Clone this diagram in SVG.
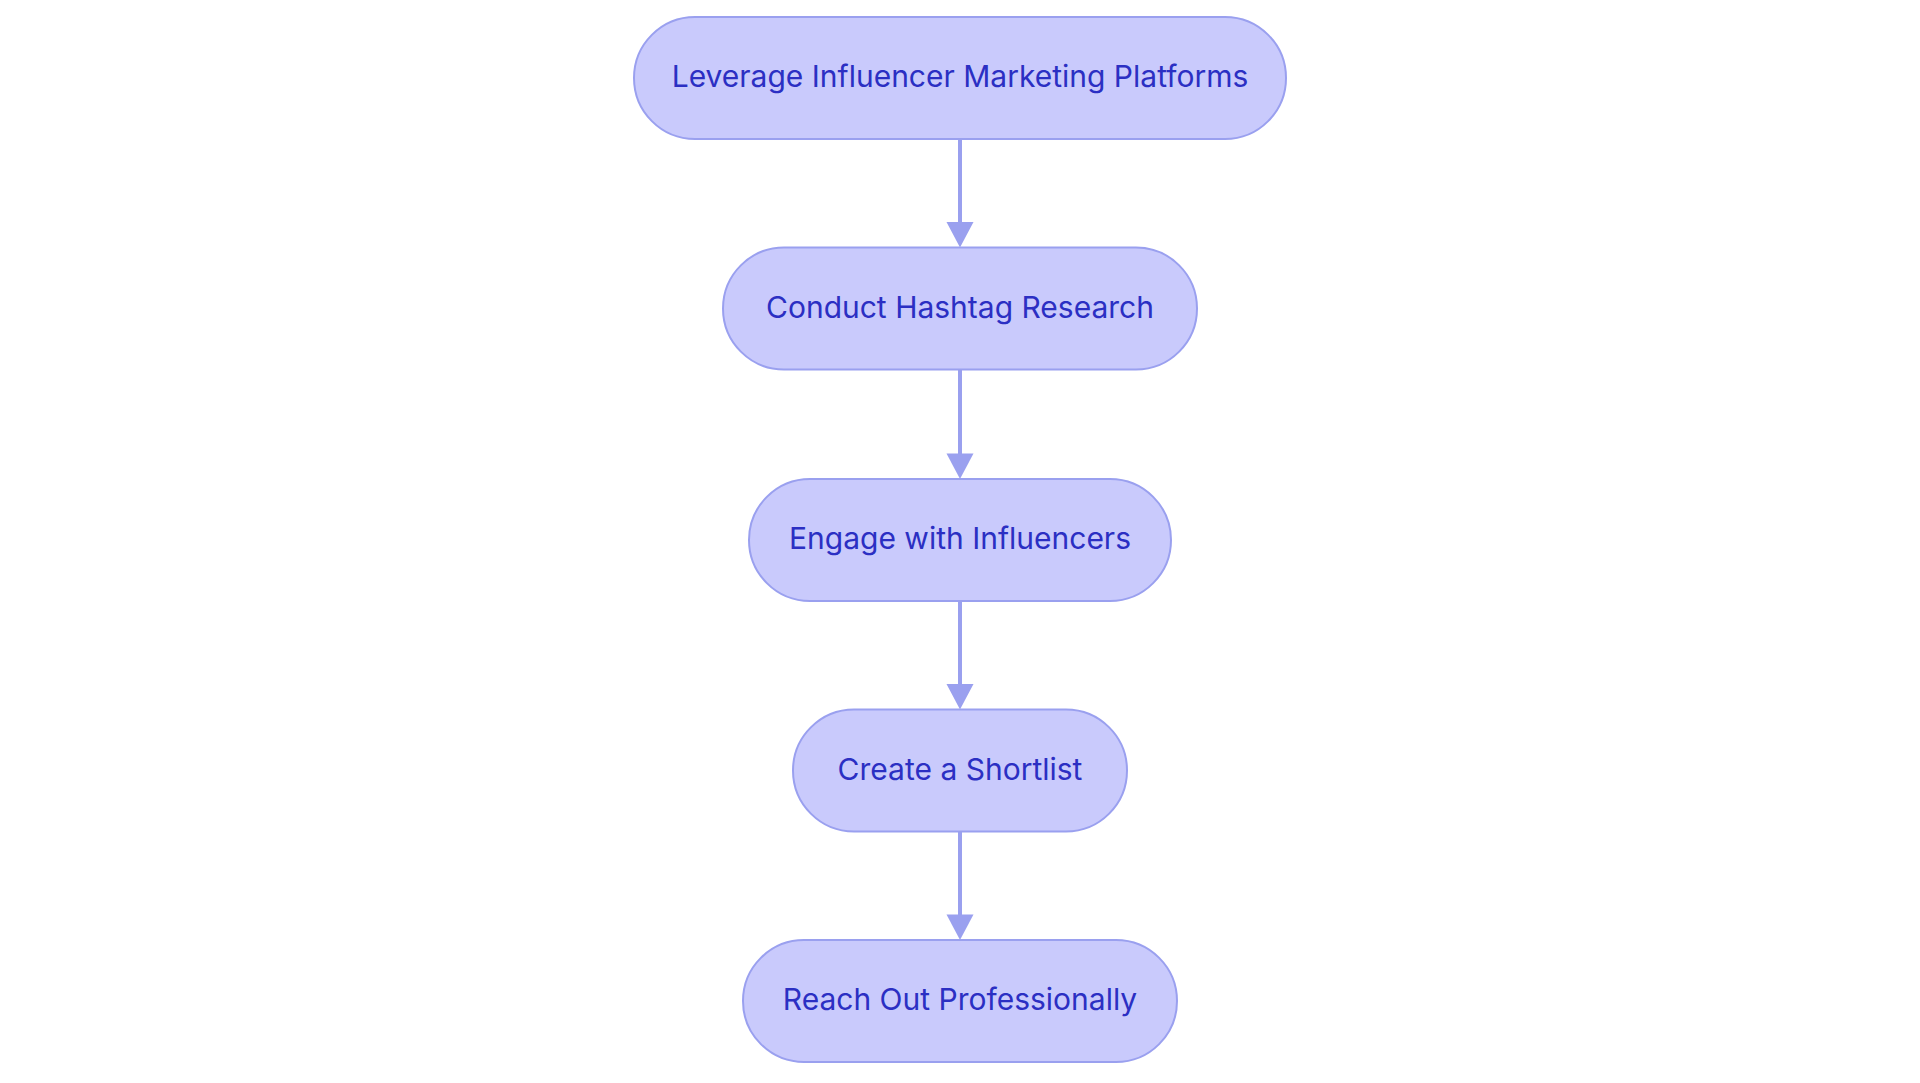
<svg xmlns="http://www.w3.org/2000/svg" width="1920" height="1083" viewBox="0 0 1920 1083">
<style>
.node rect{fill:#c9cafc;stroke:#9aa0ef;stroke-width:2}
.node text{font-family:Inter,"Noto Sans",sans-serif;font-size:30px;fill:#2b2fc3;text-anchor:middle}
.edge line{stroke:#9aa0ef;stroke-width:4}
.edge polygon{fill:#9aa0ef}
</style>
<rect width="1920" height="1083" fill="#ffffff"/>
<g id="connectors" class="edge">
<line x1="960" y1="139" x2="960" y2="224"/><polygon points="946.5,222 973.5,222 960,247.5"/>
<line x1="960" y1="369.5" x2="960" y2="455"/><polygon points="946.5,453.5 973.5,453.5 960,479"/>
<line x1="960" y1="601" x2="960" y2="686"/><polygon points="946.5,684 973.5,684 960,709.5"/>
<line x1="960" y1="831.5" x2="960" y2="916"/><polygon points="946.5,914.5 973.5,914.5 960,940"/>
</g>
<g id="node1" class="node"><rect x="634" y="17" width="652" height="122" rx="61"/><text x="960" y="87">Leverage Influencer Marketing Platforms</text></g>
<g id="node2" class="node"><rect x="723" y="247.5" width="474" height="122" rx="61"/><text x="960" y="317.5">Conduct Hashtag Research</text></g>
<g id="node3" class="node"><rect x="749" y="479" width="422" height="122" rx="61"/><text x="960" y="549">Engage with Influencers</text></g>
<g id="node4" class="node"><rect x="793" y="709.5" width="334" height="122" rx="61"/><text x="960" y="779.5">Create a Shortlist</text></g>
<g id="node5" class="node"><rect x="743" y="940" width="434" height="122" rx="61"/><text x="960" y="1010">Reach Out Professionally</text></g>
</svg>
